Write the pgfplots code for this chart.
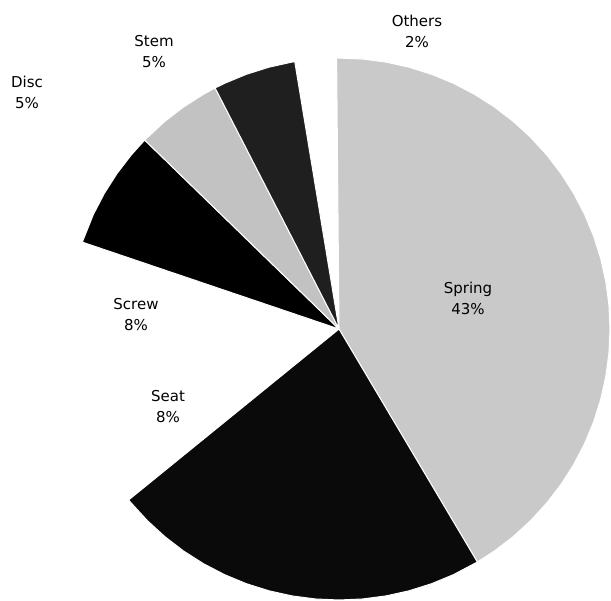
\documentclass[border=0pt]{standalone}
\usepackage{fontspec}
\setmainfont{DejaVu Sans}
\usepackage{pgfplots}
\pgfplotsset{compat=1.18}
\tikzset{lbl/.style={font=\fontsize{15}{21}\selectfont, align=center, inner sep=0pt, text=black}}
\begin{document}
\begin{tikzpicture}
\begin{axis}[
  width=611pt, height=600pt, scale only axis,
  xmin=-339, xmax=272, ymin=-271, ymax=329,
  hide axis, clip=false,
]
\path (axis cs:-339,-271) rectangle (axis cs:272,329);
% Spring
\addplot[draw=white, line width=1pt, line join=round, fill=black!21, data cs=polar, mark=none] coordinates {
 (0,0) (90.5,271) (85,271) (80,271) (75,271) (70,271) (65,271) (60,271) (55,271) (50,271) (45,271)
 (40,271) (35,271) (30,271) (25,271) (20,271) (15,271) (10,271) (5,271) (0,271) (-5,271) (-10,271)
 (-15,271) (-20,271) (-25,271) (-30,271) (-35,271) (-40,271) (-45,271) (-50,271) (-55,271) (-59.3,271) (0,0)};
% Seat
\addplot[draw=white, line width=1pt, line join=round, fill=black!96, data cs=polar, mark=none] coordinates {
 (0,0) (-59.3,271) (-65,271) (-70,271) (-75,271) (-80,271) (-85,271) (-90,271) (-95,271) (-100,271)
 (-105,271) (-110,271) (-115,271) (-120,271) (-125,271) (-130,271) (-135,271) (-140,271) (-140.9,271) (0,0)};
% white slice
\addplot[draw=none, fill=white, data cs=polar, mark=none] coordinates {
 (0,0) (219.1,271) (215,271) (210,271) (205,271) (200,271) (195,271) (190,271) (185,271) (180,271)
 (175,271) (170,271) (165,271) (161.3,271) (0,0)};
% black left slice
\addplot[draw=white, line width=1pt, line join=round, fill=black, data cs=polar, mark=none] coordinates {
 (0,0) (161.3,271) (155,271) (150,271) (145,271) (140,271) (135.8,271) (0,0)};
% light gray slice
\addplot[draw=white, line width=1pt, line join=round, fill=black!24, data cs=polar, mark=none] coordinates {
 (0,0) (135.8,271) (130,271) (125,271) (120,271) (117.2,271) (0,0)};
% dark top slice
\addplot[draw=white, line width=1pt, line join=round, fill=black!88, data cs=polar, mark=none] coordinates {
 (0,0) (117.2,271) (115,271) (110,271) (105,271) (100,271) (99.4,271) (0,0)};
% labels
\node[lbl] at (axis cs:78,298) {Others\\2\%};
\node[lbl] at (axis cs:129,31) {Spring\\43\%};
\node[lbl] at (axis cs:-185,277) {Stem\\5\%};
\node[lbl] at (axis cs:-312,236.5) {Disc\\5\%};
\node[lbl] at (axis cs:-203,14) {Screw\\8\%};
\node[lbl] at (axis cs:-171,-77.5) {Seat\\8\%};
\end{axis}
\end{tikzpicture}
\end{document}
